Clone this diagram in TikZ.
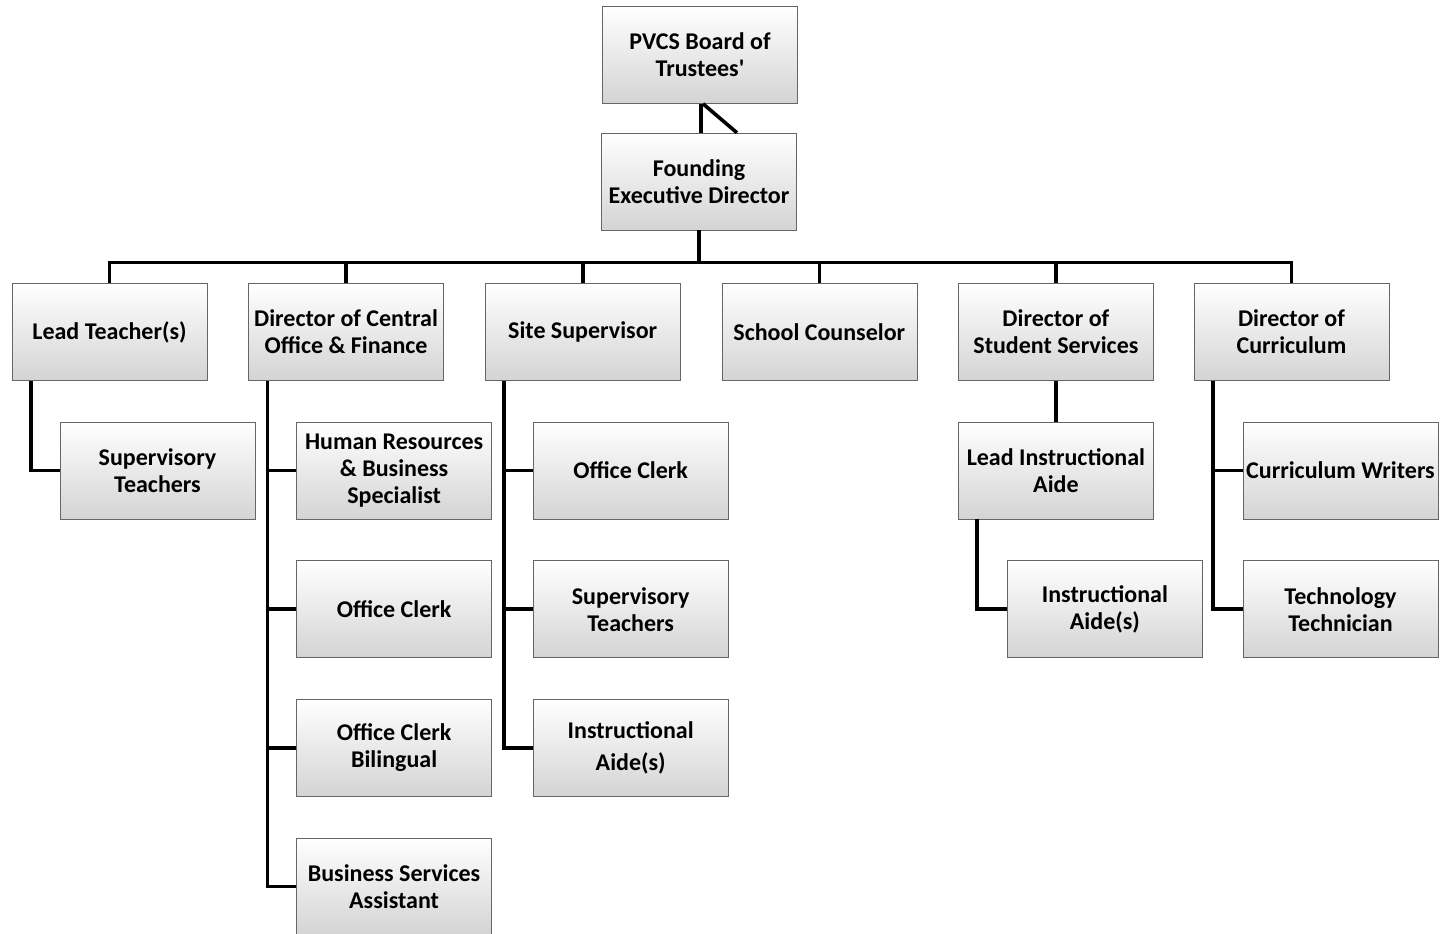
\documentclass[tikz,border=0pt]{standalone}
\usepackage{fontspec}
\setmainfont{Carlito}
\usetikzlibrary{positioning}

\begin{document}
\begin{tikzpicture}[
    x=1pt, y=1pt,
    node distance=41pt,
    role node/.style={rectangle,draw=black!60,line width=0.6pt,
      top color=white,middle color=black!4,bottom color=black!17,
      minimum width=195pt,minimum height=97pt,inner sep=1pt,
      align=center,font=\fontsize{24}{27}\selectfont\bfseries},
    link/.style={line width=3.6pt,line join=miter},
    elbow/.style={to path={|- (\tikztotarget)}}]

  \useasboundingbox (0,0) rectangle (1443,-934);

  % top of the chart
  \node[role node] (Board) at (700,-55) {PVCS Board of\\Trustees\textquotesingle};
  \node[role node] (Founding) [below=29pt of Board, xshift=-1pt] {Founding\\Executive Director};

  % first row
  \node[role node] (LeadTeacher) at (109.5,-332) {Lead Teacher(s)};
  \node[role node] (DirCentral) [right=of LeadTeacher] {Director of Central\\Office \& Finance};
  \node[role node] (SiteSup) [right=of DirCentral] {Site Supervisor};
  \node[role node] (Counselor) [right=of SiteSup] {School Counselor};
  \node[role node] (DirStudent) [right=of Counselor] {Director of\\Student Services};
  \node[role node] (DirCurric) [right=40pt of DirStudent] {Director of\\Curriculum};

  % lead teacher branch
  \node[role node] (SupTeachA) [below=of LeadTeacher, xshift=48pt] {Supervisory\\Teachers};

  % central office branch
  \node[role node] (HRSpec) [below=of DirCentral, xshift=48pt] {Human Resources\\\& Business\\Specialist};
  \node[role node] (ClerkA) [below=of HRSpec] {Office Clerk};
  \node[role node] (ClerkBil) [below=of ClerkA] {Office Clerk\\Bilingual};
  \node[role node] (BizAssist) [below=of ClerkBil] {Business Services\\Assistant};

  % site supervisor branch
  \node[role node] (ClerkB) [below=of SiteSup, xshift=48pt] {Office Clerk};
  \node[role node] (SupTeachB) [below=of ClerkB] {Supervisory\\Teachers};
  \node[role node] (AideA) [below=of SupTeachB] {Instructional\\[5pt]Aide(s)};

  % student services branch
  \node[role node] (LeadAide) [below=of DirStudent] {Lead Instructional\\Aide};
  \node[role node] (AideB) [below=of LeadAide, xshift=49pt] {Instructional\\Aide(s)};

  % curriculum branch
  \node[role node] (Writers) [below=of DirCurric, xshift=49pt] {Curriculum Writers};
  \node[role node] (TechTech) [below=of Writers] {Technology\\Technician};

  \draw[link] (Board.south -| 701,0) -- (Founding.north -| 701,0);
  \draw[link] ([xshift=3pt]Board.south) -- ([xshift=38pt]Founding.north);
  \draw[link] (Founding.south) -- ++(0,-32) coordinate (bus);

  \path[link]
    (bus)
         edge[to path={-| (\tikztotarget)}] (LeadTeacher.north)
         edge[to path={-| (\tikztotarget)}] (DirCentral.north)
         edge[to path={-| (\tikztotarget)}] (SiteSup.north)
         edge[to path={-| (\tikztotarget)}] (Counselor.north)
         edge[to path={-| (\tikztotarget)}] (DirStudent.north)
         edge[to path={-| (\tikztotarget)}] (DirCurric.north)
    ([xshift=19pt]LeadTeacher.south west)
         edge[elbow] (SupTeachA.west)
    ([xshift=19pt]DirCentral.south west)
         edge[elbow] (HRSpec.west)
         edge[elbow] (ClerkA.west)
         edge[elbow] (ClerkBil.west)
         edge[elbow] (BizAssist.west)
    ([xshift=19pt]SiteSup.south west)
         edge[elbow] (ClerkB.west)
         edge[elbow] (SupTeachB.west)
         edge[elbow] (AideA.west)
    (DirStudent.south)
         edge (DirStudent.south |- LeadAide.north)
    ([xshift=19pt]LeadAide.south west)
         edge[elbow] (AideB.west)
    ([xshift=19pt]DirCurric.south west)
         edge[elbow] (Writers.west)
         edge[elbow] (TechTech.west);
\end{tikzpicture}
\end{document}
